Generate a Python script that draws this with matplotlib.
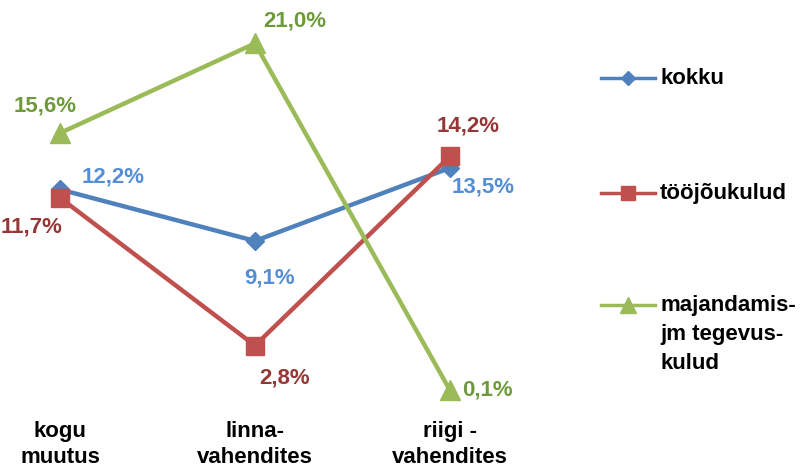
import matplotlib.pyplot as plt
from matplotlib.lines import Line2D

plt.rcParams['font.family'] = ['Liberation Sans', 'DejaVu Sans']

categories = ["kogu\nmuutus", "linna-\nvahendites", "riigi -\nvahendites"]
kokku = [12.2, 9.1, 13.5]
toojou = [11.7, 2.8, 14.2]
majand = [15.6, 21.0, 0.1]
names = ["kokku", "tööjõukulud", "majandamis-\njm tegevus-\nkulud"]

line_cols = ["#4F81BD", "#C0504D", "#9BBB59"]
label_cols = ["#558ED5", "#953735", "#6E9A3A"]
markers = ["D", "s", "^"]
msizes = [9, 13, 14]
# label offsets in pixels (dx, dy) per point
offsets = [
    [(53, 12), (15, -37), (33, -19)],
    [(-28, -29), (30, -32), (18, 30)],
    [(-15, 27), (40, 22), (37, 0)],
]

fs = 16

fig = plt.figure(figsize=(8.06, 4.68), dpi=100)
ax = fig.add_axes([11.25 / 806, (468 - 408.6) / 468, (498.75 - 11.25) / 806, (408.6 - 18.5) / 468])

x = range(len(categories))
for vals, lc, tc, m, ms, offs in zip([kokku, toojou, majand], line_cols, label_cols, markers, msizes, offsets):
    ax.plot(x, vals, color=lc, lw=3.2, marker=m, ms=ms, mec=lc, mfc=lc)
    for xi, v, (dx, dy) in zip(x, vals, offs):
        ax.annotate(f"{v:.1f}%".replace(".", ","), (xi, v), xytext=(dx * 0.72, dy * 0.72),
                    textcoords="offset points", ha="center", va="center",
                    color=tc, fontsize=fs, fontweight="bold")

ax.set_xlim(-0.25, 2.25)
ax.set_ylim(-1, 22.5)
ax.set_xticks(list(x))
ax.set_xticklabels(categories, fontsize=fs, fontweight="bold", linespacing=1.3)
ax.tick_params(axis="x", length=0, pad=9)
ax.set_yticks([])
for s in ax.spines.values():
    s.set_visible(False)

# legend drawn by hand
lax = fig.add_axes([0, 0, 1, 1])
lax.set_xlim(0, 806)
lax.set_ylim(468, 0)
lax.axis("off")
leg_y = [78, 193, 305]
for name, lc, m, ms, ly in zip(names, line_cols, markers, msizes, leg_y):
    lax.add_line(Line2D([601, 655], [ly, ly], color=lc, lw=2.5))
    lax.plot([628], [ly], marker=m, ms=ms * 0.8, color=lc)
    lax.text(660, ly - 10, name, fontsize=fs, fontweight="bold", va="top", ha="left",
             linespacing=1.5)

fig.savefig("out.png", dpi=100)
